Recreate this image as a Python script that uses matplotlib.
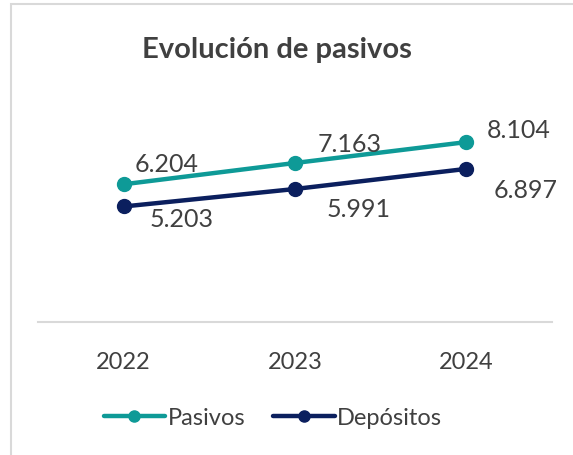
import matplotlib.pyplot as plt
from matplotlib.patches import Rectangle

# data
years = ['2022', '2023', '2024']
pasivos = [6.204, 7.163, 8.104]
depositos = [5.203, 5.991, 6.897]
pasivos_labels = ['6.204', '7.163', '8.104']
depositos_labels = ['5.203', '5.991', '6.897']

teal = '#0e9a97'
navy = '#0b1f5e'
textc = '#404040'

plt.rcParams['font.family'] = ['Lato', 'DejaVu Sans']

fig = plt.figure(figsize=(5.73, 4.56), dpi=100)
# chart frame (cut off on the right and bottom)
fig.patches.append(Rectangle((11 / 573, -0.05), 1.0, 1.05 - 5 / 456, transform=fig.transFigure,
                             fill=False, edgecolor='#d9d9d9', linewidth=1.5))

ax = fig.add_axes([38 / 573, 1 - 323 / 456, 514 / 573, 222 / 456])
x = range(len(years))
ax.plot(x, pasivos, color=teal, lw=3.2, marker='o', ms=10, solid_capstyle='round', label='Pasivos')
ax.plot(x, depositos, color=navy, lw=3.2, marker='o', ms=10, solid_capstyle='round', label='Depósitos')
ax.set_xlim(-0.5, 2.5)
ax.set_ylim(0, 10)

# label offsets in points
p_off = [(31, 15), (39, 14), (38, 9)]
d_off = [(42, -9), (46, -14), (43, -15)]
for i in x:
    ax.annotate(pasivos_labels[i], (i, pasivos[i]), xytext=p_off[i], textcoords='offset points',
                ha='center', va='center', fontsize=18, color=textc)
    ax.annotate(depositos_labels[i], (i, depositos[i]), xytext=d_off[i], textcoords='offset points',
                ha='center', va='center', fontsize=18, color=textc)

for s in ['top', 'right', 'left']:
    ax.spines[s].set_visible(False)
ax.spines['bottom'].set_color('#d9d9d9')
ax.spines['bottom'].set_linewidth(1.5)
ax.set_yticks([])
ax.set_xticks(list(x))
ax.set_xticklabels(years, fontsize=17, color=textc)
ax.tick_params(axis='x', length=0, pad=21)

fig.text(277 / 573, 1 - 50 / 456, 'Evolución de pasivos', ha='center', va='center',
         fontsize=21, fontweight='bold', color=textc)

leg = fig.legend(loc='center', bbox_to_anchor=(273 / 573, 1 - 419 / 456), ncol=2, frameon=False,
                 fontsize=17, handlelength=2.6, handletextpad=0.1, columnspacing=1.2,
                 markerscale=0.8, labelcolor=textc)

fig.savefig('out.png', dpi=100)
